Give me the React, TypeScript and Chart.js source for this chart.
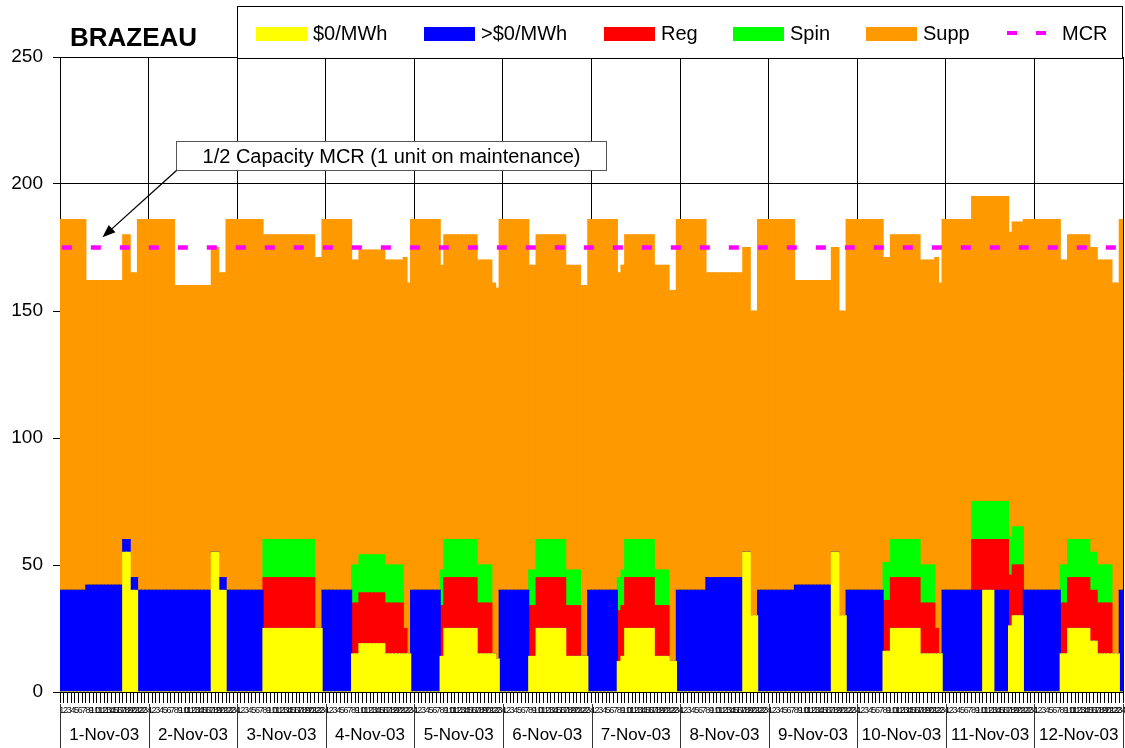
import React, { useEffect, useRef } from "react";
import { Chart, registerables } from "chart.js";

Chart.register(...registerables);

// ---------- data ----------
const DAY_LABELS = [
  "1-Nov-03", "2-Nov-03", "3-Nov-03", "4-Nov-03", "5-Nov-03", "6-Nov-03",
  "7-Nov-03", "8-Nov-03", "9-Nov-03", "10-Nov-03", "11-Nov-03", "12-Nov-03",
];
const HOUR_LABELS = [
  "1", "2", "3", "4", "5", "6", "7", "8", "9", "10", "11", "12",
  "13", "14", "15", "16", "17", "18", "19", "20", "21", "22", "23", "24",
];

// $0/MWh (yellow)
const ZERO_PRICE = [
  0,0,0,0,0,0,0,0,0,0,0,0,0,0,0,0,0,55,55,40,40,0,0,0,
  0,0,0,0,0,0,0,0,0,0,0,0,0,0,0,0,0,55,55,40,40,0,0,0,
  0,0,0,0,0,0,0,25,25,25,25,25,25,25,25,25,25,25,25,25,25,25,25,0,
  0,0,0,0,0,0,0,15,15,19,19,19,19,19,19,19,15,15,15,15,15,15,15,0,
  0,0,0,0,0,0,0,14,25,25,25,25,25,25,25,25,25,15,15,15,15,15,13,0,
  0,0,0,0,0,0,0,14,14,25,25,25,25,25,25,25,25,14,14,14,14,14,14,0,
  0,0,0,0,0,0,0,12,14,25,25,25,25,25,25,25,25,14,14,14,14,12,12,0,
  0,0,0,0,0,0,0,0,0,0,0,0,0,0,0,0,0,55,55,30,30,0,0,0,
  0,0,0,0,0,0,0,0,0,0,0,0,0,0,0,0,0,55,55,30,30,0,0,0,
  0,0,0,0,0,0,0,16,16,25,25,25,25,25,25,25,25,15,15,15,15,15,15,0,
  0,0,0,0,0,0,0,0,0,0,40,40,40,0,0,0,0,26,30,30,30,0,0,0,
  0,0,0,0,0,0,0,15,15,25,25,25,25,25,25,20,20,15,15,15,15,15,15,0,
];

// >$0/MWh (blue)
const POSITIVE_PRICE = [
  40,40,40,40,40,40,40,42,42,42,42,42,42,42,42,42,42,5,5,5,5,40,40,40,
  40,40,40,40,40,40,40,40,40,40,40,40,40,40,40,40,40,0,0,5,5,40,40,40,
  40,40,40,40,40,40,40,0,0,0,0,0,0,0,0,0,0,0,0,0,0,0,0,40,
  40,40,40,40,40,40,40,0,0,0,0,0,0,0,0,0,0,0,0,0,0,0,0,40,
  40,40,40,40,40,40,40,0,0,0,0,0,0,0,0,0,0,0,0,0,0,0,0,40,
  40,40,40,40,40,40,40,0,0,0,0,0,0,0,0,0,0,0,0,0,0,0,0,40,
  40,40,40,40,40,40,40,0,0,0,0,0,0,0,0,0,0,0,0,0,0,0,0,40,
  40,40,40,40,40,40,40,45,45,45,45,45,45,45,45,45,45,0,0,0,0,40,40,40,
  40,40,40,40,40,40,40,42,42,42,42,42,42,42,42,42,42,0,0,0,0,40,40,40,
  40,40,40,40,40,40,40,0,0,0,0,0,0,0,0,0,0,0,0,0,0,0,0,40,
  40,40,40,40,40,40,40,40,40,40,0,0,0,40,40,40,40,0,0,0,0,40,40,40,
  40,40,40,40,40,40,40,0,0,0,0,0,0,0,0,0,0,0,0,0,0,0,0,40,
];

// Reg (red)
const REG = [
  0,0,0,0,0,0,0,0,0,0,0,0,0,0,0,0,0,0,0,0,0,0,0,0,
  0,0,0,0,0,0,0,0,0,0,0,0,0,0,0,0,0,0,0,0,0,0,0,0,
  0,0,0,0,0,0,0,20,20,20,20,20,20,20,20,20,20,20,20,20,20,0,0,0,
  0,0,0,0,0,0,0,20,20,20,20,20,20,20,20,20,20,20,20,20,20,10,0,0,
  0,0,0,0,0,0,0,20,20,20,20,20,20,20,20,20,20,20,20,20,20,0,0,0,
  0,0,0,0,0,0,0,20,20,20,20,20,20,20,20,20,20,20,20,20,20,0,0,0,
  0,0,0,0,0,0,0,20,20,20,20,20,20,20,20,20,20,20,20,20,20,0,0,0,
  0,0,0,0,0,0,0,0,0,0,0,0,0,0,0,0,0,0,0,0,0,0,0,0,
  0,0,0,0,0,0,0,0,0,0,0,0,0,0,0,0,0,0,0,0,0,0,0,0,
  0,0,0,0,0,0,0,20,20,20,20,20,20,20,20,20,20,20,20,20,20,10,0,0,
  0,0,0,0,0,0,0,20,20,20,20,20,20,20,20,20,20,20,20,20,20,0,0,0,
  0,0,0,0,0,0,0,20,20,20,20,20,20,20,20,20,20,20,20,20,20,0,0,0,
];

// Spin (green)
const SPIN = [
  0,0,0,0,0,0,0,0,0,0,0,0,0,0,0,0,0,0,0,0,0,0,0,0,
  0,0,0,0,0,0,0,0,0,0,0,0,0,0,0,0,0,0,0,0,0,0,0,0,
  0,0,0,0,0,0,0,15,15,15,15,15,15,15,15,15,15,15,15,15,15,0,0,0,
  0,0,0,0,0,0,0,15,15,15,15,15,15,15,15,15,15,15,15,15,15,0,0,0,
  0,0,0,0,0,0,0,14,15,15,15,15,15,15,15,15,15,15,15,15,15,0,0,0,
  0,0,0,0,0,0,0,14,14,15,15,15,15,15,15,15,15,14,14,14,14,0,0,0,
  0,0,0,0,0,0,0,13,14,15,15,15,15,15,15,15,15,14,14,14,14,0,0,0,
  0,0,0,0,0,0,0,0,0,0,0,0,0,0,0,0,0,0,0,0,0,0,0,0,
  0,0,0,0,0,0,0,0,0,0,0,0,0,0,0,0,0,0,0,0,0,0,0,0,
  0,0,0,0,0,0,0,15,15,15,15,15,15,15,15,15,15,15,15,15,15,0,0,0,
  0,0,0,0,0,0,0,15,15,15,15,15,15,15,15,15,15,15,15,15,15,0,0,0,
  0,0,0,0,0,0,0,15,15,15,15,15,15,15,15,15,15,15,15,15,15,0,0,0,
];

// Supp (orange)
const SUPP = [
  146,146,146,146,146,146,146,120,120,120,120,120,120,120,120,120,120,120,120,120,120,146,146,146,
  146,146,146,146,146,146,146,120,120,120,120,120,120,120,120,120,120,120,120,120,120,146,146,146,
  146,146,146,146,146,146,146,120,120,120,120,120,120,120,120,120,120,120,120,120,120,146,146,146,
  146,146,146,146,146,146,146,120,120,120,120,120,120,120,120,120,120,120,120,120,120,146,146,146,
  146,146,146,146,146,146,146,120,120,120,120,120,120,120,120,120,120,120,120,120,120,146,146,146,
  146,146,146,146,146,146,146,120,120,120,120,120,120,120,120,120,120,120,120,120,120,146,146,146,
  146,146,146,146,146,146,146,120,120,120,120,120,120,120,120,120,120,120,120,120,120,146,146,146,
  146,146,146,146,146,146,146,120,120,120,120,120,120,120,120,120,120,120,120,120,120,146,146,146,
  146,146,146,146,146,146,146,120,120,120,120,120,120,120,120,120,120,120,120,120,120,146,146,146,
  146,146,146,146,146,146,146,120,120,120,120,120,120,120,120,120,120,120,120,120,120,146,146,146,
  146,146,146,146,146,146,146,120,120,120,120,120,120,120,120,120,120,120,120,120,120,146,146,146,
  146,146,146,146,146,146,146,120,120,120,120,120,120,120,120,120,120,120,120,120,120,146,146,146,
];

const MCR_LEVEL = 175;

const TITLE = "BRAZEAU";
const ANNOTATION_TEXT = "1/2 Capacity MCR (1 unit on maintenance)";
// arrow tip and label box anchor, in data units (hour index, MW)
const ANNOTATION_TIP = { index: 11, value: 179 };
const ANNOTATION_BOX = { index: 31, value: 205.5 };

const CATEGORIES = DAY_LABELS.flatMap((d) => HOUR_LABELS.map((h) => d + " " + h));

const FONT = '"Liberation Sans", Arial, Helvetica, sans-serif';

const decorPlugin = {
  id: "decor",
  afterDraw(chart: any) {
    const ctx = chart.ctx as CanvasRenderingContext2D;
    const xs = chart.scales.x;
    const ys = chart.scales.y;
    const n = CATEGORIES.length;
    const catW = (xs.getPixelForValue(n - 1) - xs.getPixelForValue(0)) / (n - 1);
    ctx.save();

    // ---- title ----
    ctx.fillStyle = "#000";
    ctx.font = "bold 26px " + FONT;
    ctx.textAlign = "left";
    ctx.textBaseline = "alphabetic";
    ctx.fillText(TITLE, 70, 46);

    // ---- legend box ----
    ctx.fillStyle = "#fff";
    ctx.fillRect(237, 6, 886, 53);
    ctx.strokeStyle = "#000";
    ctx.lineWidth = 1;
    ctx.strokeRect(237.5, 6.5, 885, 52);
    const starts = [256, 424, 604, 733, 866, 1007];
    ctx.font = "20px " + FONT;
    ctx.textBaseline = "middle";
    chart.data.datasets.forEach((ds: any, i: number) => {
      const x0 = starts[i];
      if (ds.type === "line") {
        ctx.fillStyle = ds.borderColor;
        ctx.fillRect(x0, 31, 10, 4);
        ctx.fillRect(x0 + 29, 31, 10, 4);
        ctx.fillStyle = "#000";
        ctx.fillText(ds.label, x0 + 55, 34);
      } else {
        ctx.fillStyle = ds.backgroundColor;
        ctx.fillRect(x0, 27, 51, 14);
        ctx.fillStyle = "#000";
        ctx.fillText(ds.label, x0 + 57, 34);
      }
    });

    // ---- day row under the hour axis ----
    const top = xs.top + 12;
    ctx.strokeStyle = "#333";
    ctx.lineWidth = 1;
    for (let d = 0; d <= DAY_LABELS.length; d++) {
      const px = d < DAY_LABELS.length
        ? xs.getPixelForValue(d * 24) - catW / 2
        : xs.getPixelForValue(n - 1) + catW / 2;
      const rx = Math.round(px) + 0.5;
      ctx.beginPath();
      ctx.moveTo(rx, top);
      ctx.lineTo(rx, chart.height);
      ctx.stroke();
    }
    ctx.fillStyle = "#000";
    ctx.font = "17px " + FONT;
    ctx.textAlign = "center";
    ctx.textBaseline = "middle";
    DAY_LABELS.forEach((lab, d) => {
      const a = xs.getPixelForValue(d * 24) - catW / 2;
      const b = xs.getPixelForValue(d * 24 + 23) + catW / 2;
      ctx.fillText(lab, (a + b) / 2, 735);
    });

    // ---- annotation ----
    ctx.font = "20px " + FONT;
    const tw = ctx.measureText(ANNOTATION_TEXT).width;
    const bx = Math.round(xs.getPixelForValue(ANNOTATION_BOX.index)) + 0.5;
    const by = Math.round(ys.getPixelForValue(ANNOTATION_BOX.value)) + 0.5;
    const bw = Math.round(tw + 52);
    const bh = 29;
    ctx.fillStyle = "#fff";
    ctx.fillRect(bx, by - bh, bw, bh);
    ctx.strokeStyle = "#555";
    ctx.strokeRect(bx, by - bh, bw, bh);
    ctx.fillStyle = "#000";
    ctx.textAlign = "center";
    ctx.fillText(ANNOTATION_TEXT, bx + bw / 2, by - bh / 2 + 1);

    const tx = xs.getPixelForValue(ANNOTATION_TIP.index);
    const ty = ys.getPixelForValue(ANNOTATION_TIP.value);
    const ang = Math.atan2(ty - by, tx - bx);
    const headLen = 13;
    const headW = 5;
    ctx.strokeStyle = "#000";
    ctx.lineWidth = 1.3;
    ctx.beginPath();
    ctx.moveTo(bx, by);
    ctx.lineTo(tx - Math.cos(ang) * headLen * 0.8, ty - Math.sin(ang) * headLen * 0.8);
    ctx.stroke();
    ctx.beginPath();
    ctx.moveTo(tx, ty);
    ctx.lineTo(
      tx - Math.cos(ang) * headLen + Math.sin(ang) * headW,
      ty - Math.sin(ang) * headLen - Math.cos(ang) * headW
    );
    ctx.lineTo(
      tx - Math.cos(ang) * headLen - Math.sin(ang) * headW,
      ty - Math.sin(ang) * headLen + Math.cos(ang) * headW
    );
    ctx.closePath();
    ctx.fillStyle = "#000";
    ctx.fill();

    ctx.restore();
  },
};

export default function App() {
  const ref = useRef<HTMLCanvasElement | null>(null);

  useEffect(() => {
    document.body.style.margin = "0";
    const canvas = ref.current;
    if (!canvas) return;

    const bar = (label: string, data: number[], color: string) => ({
      type: "bar" as const,
      label,
      data,
      backgroundColor: color,
      borderWidth: 0,
      inflateAmount: 0.6,
      categoryPercentage: 1,
      barPercentage: 1,
      stack: "gen",
      order: 1,
    });

    const chart = new Chart(canvas, {
      type: "bar",
      data: {
        labels: CATEGORIES,
        datasets: [
          bar("$0/MWh", ZERO_PRICE, "#FFFF00"),
          bar(">$0/MWh", POSITIVE_PRICE, "#0000FF"),
          bar("Reg", REG, "#FF0000"),
          bar("Spin", SPIN, "#00FF00"),
          bar("Supp", SUPP, "#FF9900"),
          {
            type: "line" as const,
            label: "MCR",
            data: CATEGORIES.map(() => MCR_LEVEL),
            borderColor: "#FF00FF",
            backgroundColor: "#FF00FF",
            borderWidth: 4.5,
            borderDash: [10, 19],
            borderCapStyle: "butt",
            pointRadius: 0,
            fill: false,
            tension: 0,
            stack: "mcr",
            order: 0,
          } as any,
        ],
      },
      options: {
        animation: false,
        responsive: false,
        maintainAspectRatio: false,
        events: [],
        layout: { padding: { top: 57, right: 2, left: 0, bottom: 0 } },
        plugins: {
          legend: { display: false },
          tooltip: { enabled: false },
          title: { display: false },
        },
        scales: {
          x: {
            stacked: true,
            offset: true,
            grid: {
              offset: true,
              drawOnChartArea: true,
              color: (c: any) =>
                c.index === undefined || c.index % 24 === 0 ? "#000" : "rgba(0,0,0,0)",
              tickColor: "#000",
              tickLength: 11,
              lineWidth: 1,
            },
            border: { display: true, color: "#000", width: 1 },
            ticks: {
              autoSkip: false,
              maxRotation: 0,
              minRotation: 0,
              padding: 2,
              color: "#000",
              font: { family: FONT, size: 9 },
              callback: (_v: any, i: number) => HOUR_LABELS[i % 24],
            },
            afterFit: (s: any) => {
              s.height = 56;
              s.paddingLeft = 0;
              s.paddingRight = 0;
            },
          },
          y: {
            stacked: true,
            min: 0,
            max: 250,
            grid: { color: "#000", tickColor: "#000", tickLength: 7, lineWidth: 1 },
            border: { display: true, color: "#000", width: 1 },
            ticks: {
              stepSize: 50,
              padding: 10,
              color: "#000",
              font: { family: FONT, size: 19 },
            },
            afterFit: (s: any) => {
              s.width = 60;
            },
          },
        },
      } as any,
      plugins: [decorPlugin],
    });

    return () => chart.destroy();
  }, []);

  return (
    <div style={{ width: 1125, height: 748, background: "#fff" }}>
      <canvas
        ref={ref}
        width={1125}
        height={748}
        style={{ display: "block", width: 1125, height: 748 }}
      />
    </div>
  );
}
